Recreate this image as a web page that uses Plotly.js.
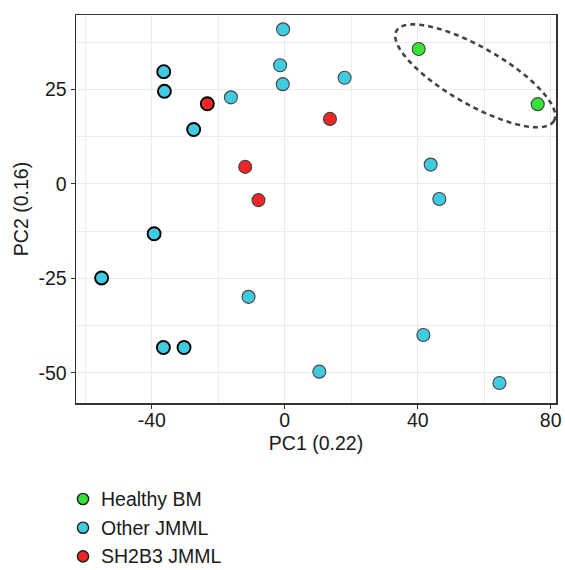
<!DOCTYPE html>
<html><head><meta charset="utf-8">
<script src="https://cdn.plot.ly/plotly-3.0.1.min.js"></script>
<style>html,body{margin:0;padding:0;background:#fff;overflow:hidden}</style>
</head><body><div id="chart" style="width:565px;height:570px"></div>
<script>
// ---- data ----
const healthyX = [40.3, 76.1];
const healthyY = [35.7, 21.1];
const healthyBold = [0, 0];

const otherX = [-0.5, -16.2, -1.4, -0.6, 18.0, 43.9, 46.5, -10.9, 41.7, 10.4, 64.6,
                -36.4, -36.2, -27.4, -39.3, -55.1, -36.5, -30.3];
const otherY = [40.9, 22.9, 31.4, 26.4, 28.1, 5.1, -4.0, -29.9, -40.0, -49.7, -52.7,
                29.7, 24.5, 14.4, -13.2, -24.9, -43.3, -43.3];
const otherBold = [0,0,0,0,0,0,0,0,0,0,0, 1,1,1,1,1,1,1];

const sh2b3X = [-23.3, -11.9, -7.9, 13.6];
const sh2b3Y = [21.2, 4.5, -4.3, 17.2];
const sh2b3Bold = [1, 0, 0, 0];

const groupNames = ['Healthy BM', 'Other JMML', 'SH2B3 JMML'];
const xTitle = 'PC1 (0.22)';
const yTitle = 'PC2 (0.16)';
const xTickVals = [-40, 0, 40, 80];
const xTickText = ['-40', '0', '40', '80'];
const yTickVals = [-50, -25, 0, 25];
const yTickText = ['-50', '-25', '0', '25'];

// ---- styling ----
const colors = ['#36e236', '#41cbe0', '#ee2626'];
const FONT = 'Liberation Sans, Arial, sans-serif';
const FS = 19.5;
const W = 565, H = 570;
const M = {l: 76, r: 9, t: 15, b: 167};
const plotW = W - M.l - M.r, plotH = H - M.t - M.b;

function trace(name, xs, ys, bold, color) {
  return {
    type: 'scatter', mode: 'markers', name: name, x: xs, y: ys,
    showlegend: false,
    marker: {
      size: 13, color: color,
      line: {
        width: bold.map(b => b ? 1.9 : 1.1),
        color: bold.map(b => b ? '#000000' : '#444444')
      }
    },
    hoverinfo: 'x+y+name'
  };
}

const data = [
  trace(groupNames[0], healthyX, healthyY, healthyBold, colors[0]),
  trace(groupNames[1], otherX, otherY, otherBold, colors[1]),
  trace(groupNames[2], sh2b3X, sh2b3Y, sh2b3Bold, colors[2])
];

// ellipse around healthy samples (screen-proportioned)
const xRange = [-62.8, 81.6], yRange = [-58.0, 44.7];
const pxX = plotW / (xRange[1] - xRange[0]);
const pxY = plotH / (yRange[1] - yRange[0]);
const ell = {cx: 57.3, cy: 28.6, a: 90.7, b: 28.6, ang: 29.8};
let path = '';
const th = ell.ang * Math.PI / 180;
for (let i = 0; i <= 120; i++) {
  const t = i / 120 * 2 * Math.PI;
  const dxp = ell.a * Math.cos(t) * Math.cos(th) - ell.b * Math.sin(t) * Math.sin(th);
  const dyp = ell.a * Math.cos(t) * Math.sin(th) + ell.b * Math.sin(t) * Math.cos(th);
  const X = ell.cx + dxp / pxX, Y = ell.cy - dyp / pxY;
  path += (i === 0 ? 'M' : 'L') + X.toFixed(3) + ',' + Y.toFixed(3);
}
path += 'Z';

const shapes = [{
  type: 'path', xref: 'x', yref: 'y', path: path,
  line: {color: '#444444', width: 2.6, dash: '5px,4px'}, layer: 'above'
}];
const annotations = [];

// legend below the plot (keys + labels), placed in page pixels
const legendKeyX = 83, legendTextX = 99, legendTop = 499, legendStep = 28.7;
const px2paperX = p => (p - M.l) / plotW;
const px2paperY = p => (H - M.b - p) / plotH;
groupNames.forEach((name, i) => {
  const cy = legendTop + i * legendStep;
  shapes.push({
    type: 'circle', xref: 'paper', yref: 'paper',
    xsizemode: 'pixel', ysizemode: 'pixel',
    xanchor: px2paperX(legendKeyX), yanchor: px2paperY(cy),
    x0: -5.6, x1: 5.6, y0: -5.6, y1: 5.6,
    fillcolor: colors[i], line: {color: '#1a1a1a', width: 1.4}, layer: 'above'
  });
  annotations.push({
    xref: 'paper', yref: 'paper', x: px2paperX(legendTextX), y: px2paperY(cy),
    xanchor: 'left', yanchor: 'middle', showarrow: false, text: name,
    font: {family: FONT, size: FS, color: '#1a1a1a'}
  });
});

const axisCommon = {
  showgrid: true, gridcolor: '#ebebeb', gridwidth: 1,
  zeroline: false, showline: true, mirror: true, linecolor: '#333333', linewidth: 1.5,
  ticks: 'outside', ticklen: 4, tickcolor: '#333333', tickwidth: 1,
  tickfont: {family: FONT, size: FS, color: '#1a1a1a'},
  automargin: false
};

const layout = {
  width: W, height: H, margin: M,
  paper_bgcolor: '#ffffff', plot_bgcolor: '#ffffff',
  font: {family: FONT, color: '#1a1a1a'},
  showlegend: false,
  xaxis: Object.assign({}, axisCommon, {
    range: xRange, tickmode: 'array', tickvals: xTickVals, ticktext: xTickText,
    ticklabelstandoff: -5,
    minor: {tickmode: 'linear', tick0: -60, dtick: 40, ticks: '', showgrid: true, gridcolor: '#ededed', gridwidth: 1},
    title: {text: xTitle, font: {family: FONT, size: FS, color: '#1a1a1a'}, standoff: 6}
  }),
  yaxis: Object.assign({}, axisCommon, {
    range: yRange, tickmode: 'array', tickvals: yTickVals, ticktext: yTickText,
    minor: {tickmode: 'linear', tick0: -37.5, dtick: 25, ticks: '', showgrid: true, gridcolor: '#ededed', gridwidth: 1},
    title: {text: yTitle, font: {family: FONT, size: FS, color: '#1a1a1a'}, standoff: 4}
  }),
  shapes: shapes,
  annotations: annotations
};

Plotly.newPlot('chart', data, layout, {displayModeBar: false, staticPlot: true});
</script>
</body></html>
